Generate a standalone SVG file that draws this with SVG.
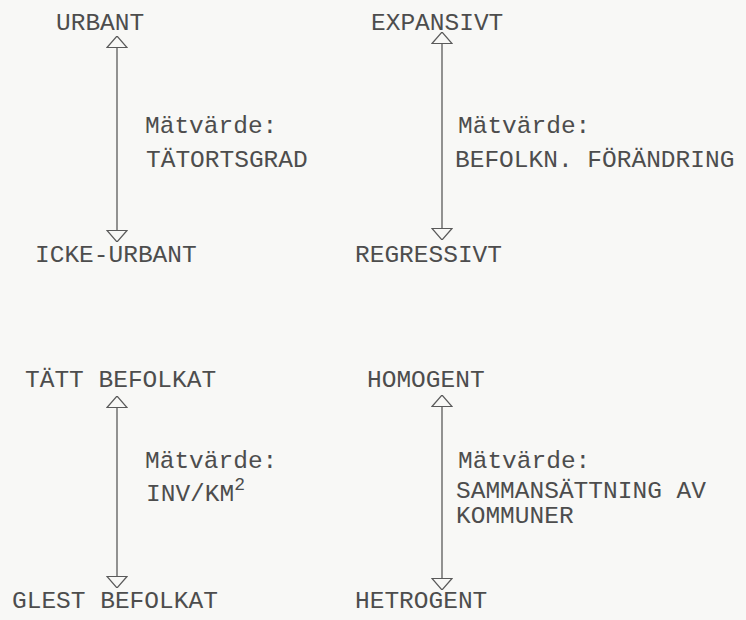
<svg xmlns="http://www.w3.org/2000/svg" width="746" height="620" viewBox="0 0 746 620">
<style>
  text { font-family: "Liberation Mono", "Courier New", monospace; font-size: 24.5px; fill: #4d4d4d; }
  .ax { stroke: #5a5a5a; stroke-width: 1.3; fill: none; }
  .sup { font-size: 18px; }
</style>
<defs>
  <marker id="ah" viewBox="0 0 12 22" refX="12" refY="11" markerWidth="12" markerHeight="22" markerUnits="userSpaceOnUse" orient="auto-start-reverse">
    <path d="M0.5,1 L12,11 L0.5,21 Z" fill="#f8f8f6" stroke="#5a5a5a" stroke-width="1.2" stroke-linejoin="miter"/>
  </marker>
</defs>
<rect width="746" height="620" fill="#f8f8f6"/>

<g id="connectors">
  <line class="ax" x1="117" y1="36" x2="117" y2="242" marker-start="url(#ah)" marker-end="url(#ah)"/>
  <line class="ax" x1="442" y1="32" x2="442" y2="240" marker-start="url(#ah)" marker-end="url(#ah)"/>
  <line class="ax" x1="117" y1="396" x2="117" y2="588" marker-start="url(#ah)" marker-end="url(#ah)"/>
  <line class="ax" x1="442" y1="395" x2="442" y2="590" marker-start="url(#ah)" marker-end="url(#ah)"/>
</g>

<g id="urban">
  <text x="56" y="30">URBANT</text>
  <text x="145" y="133">Mätvärde:</text>
  <text x="146" y="167">TÄTORTSGRAD</text>
  <text x="35" y="262">ICKE-URBANT</text>
</g>

<g id="expansiv">
  <text x="371" y="30">EXPANSIVT</text>
  <text x="458" y="133">Mätvärde:</text>
  <text x="455" y="167">BEFOLKN. FÖRÄNDRING</text>
  <text x="355" y="262">REGRESSIVT</text>
</g>

<g id="befolkat">
  <text x="25" y="387">TÄTT BEFOLKAT</text>
  <text x="145" y="468">Mätvärde:</text>
  <text x="146" y="501">INV/KM<tspan class="sup" dy="-11">2</tspan></text>
  <text x="12" y="608">GLEST BEFOLKAT</text>
</g>

<g id="homogen">
  <text x="367" y="387">HOMOGENT</text>
  <text x="458" y="468">Mätvärde:</text>
  <text x="456" y="498">SAMMANSÄTTNING AV</text>
  <text x="456" y="523">KOMMUNER</text>
  <text x="355" y="608">HETROGENT</text>
</g>
</svg>
